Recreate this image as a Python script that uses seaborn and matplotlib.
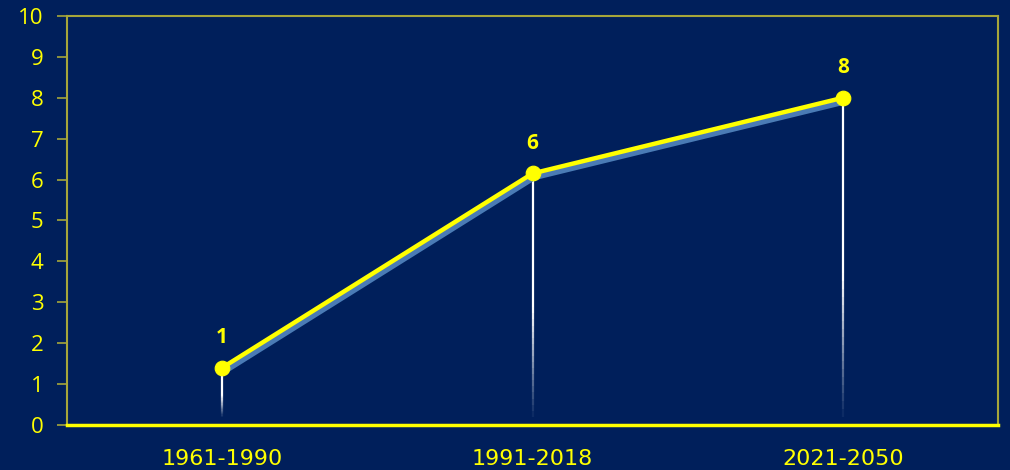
import numpy as np
import pandas as pd
import matplotlib
matplotlib.use("Agg")
import matplotlib.pyplot as plt
import seaborn as sns

periods = ["1961-1990", "1991-2018", "2021-2050"]
values = [1.4, 6.15, 8.0]
point_labels = ["1", "6", "8"]
y_ticks = list(range(0, 11))

BG = "#001F5B"
YEL = "#FFFF00"
OLIVE = "#A6A63A"
SHADOW = "#4A7BB5"

sns.set_theme(style="white")
plt.rcParams["font.family"] = ["Open Sans", "DejaVu Sans"]

df = pd.DataFrame({"x": np.arange(len(periods)), "y": values, "period": periods})

fig = plt.figure(figsize=(10.1, 4.7), dpi=100, facecolor=BG)
ax = fig.add_axes([67 / 1010, 45 / 470, 931 / 1010, 409 / 470])
ax.set_facecolor(BG)

# gradient drop lines
n_seg = 40
for xi, yi in zip(df["x"], df["y"]):
    ys = np.linspace(0.2, yi, n_seg + 1)
    for k in range(n_seg):
        a = min(1.0, (k + 1) / n_seg * 2.2)
        ax.vlines(xi, ys[k], ys[k + 1], color="white", alpha=a, linewidth=1.6, zorder=2)

# shadow line
sns.lineplot(data=df.assign(y=df["y"] - 0.1), x="x", y="y", ax=ax, color=SHADOW,
             linewidth=4, zorder=3, legend=False)
ax.lines[-1].set_transform(ax.lines[-1].get_transform() + matplotlib.transforms.ScaledTranslation(1.5 / 100, 0, fig.dpi_scale_trans))
sns.lineplot(data=df, x="x", y="y", ax=ax, color=YEL, linewidth=3.2, zorder=4, legend=False)
sns.scatterplot(data=df, x="x", y="y", ax=ax, color=YEL, s=110, edgecolor=YEL, zorder=5, legend=False)

for xi, yi, lab in zip(df["x"], df["y"], point_labels):
    ax.annotate(lab, (xi, yi), xytext=(0, 14), textcoords="offset points", ha="center",
                va="bottom", color=YEL, fontsize=15, fontweight="bold")

ax.set_xlim(-0.5, 2.5)
ax.set_ylim(0, 10)
ax.set_xticks(df["x"])
ax.set_xticklabels(periods, family=["DejaVu Sans"])
ax.set_yticks(y_ticks)
ax.set_xlabel("")
ax.set_ylabel("")
ax.tick_params(axis="x", colors=YEL, labelsize=16, length=0, pad=17)
ax.tick_params(axis="y", colors=OLIVE, labelcolor=YEL, labelsize=16, length=7, width=1.2, left=True, pad=10)
for s in ["left", "top", "right"]:
    ax.spines[s].set_color(OLIVE)
    ax.spines[s].set_linewidth(1.5)
    ax.spines[s].set_visible(True)
ax.spines["bottom"].set_color(YEL)
ax.spines["bottom"].set_linewidth(2.5)
ax.spines["bottom"].set_visible(True)
ax.grid(False)

fig.savefig("out.png", dpi=100, facecolor=BG)
